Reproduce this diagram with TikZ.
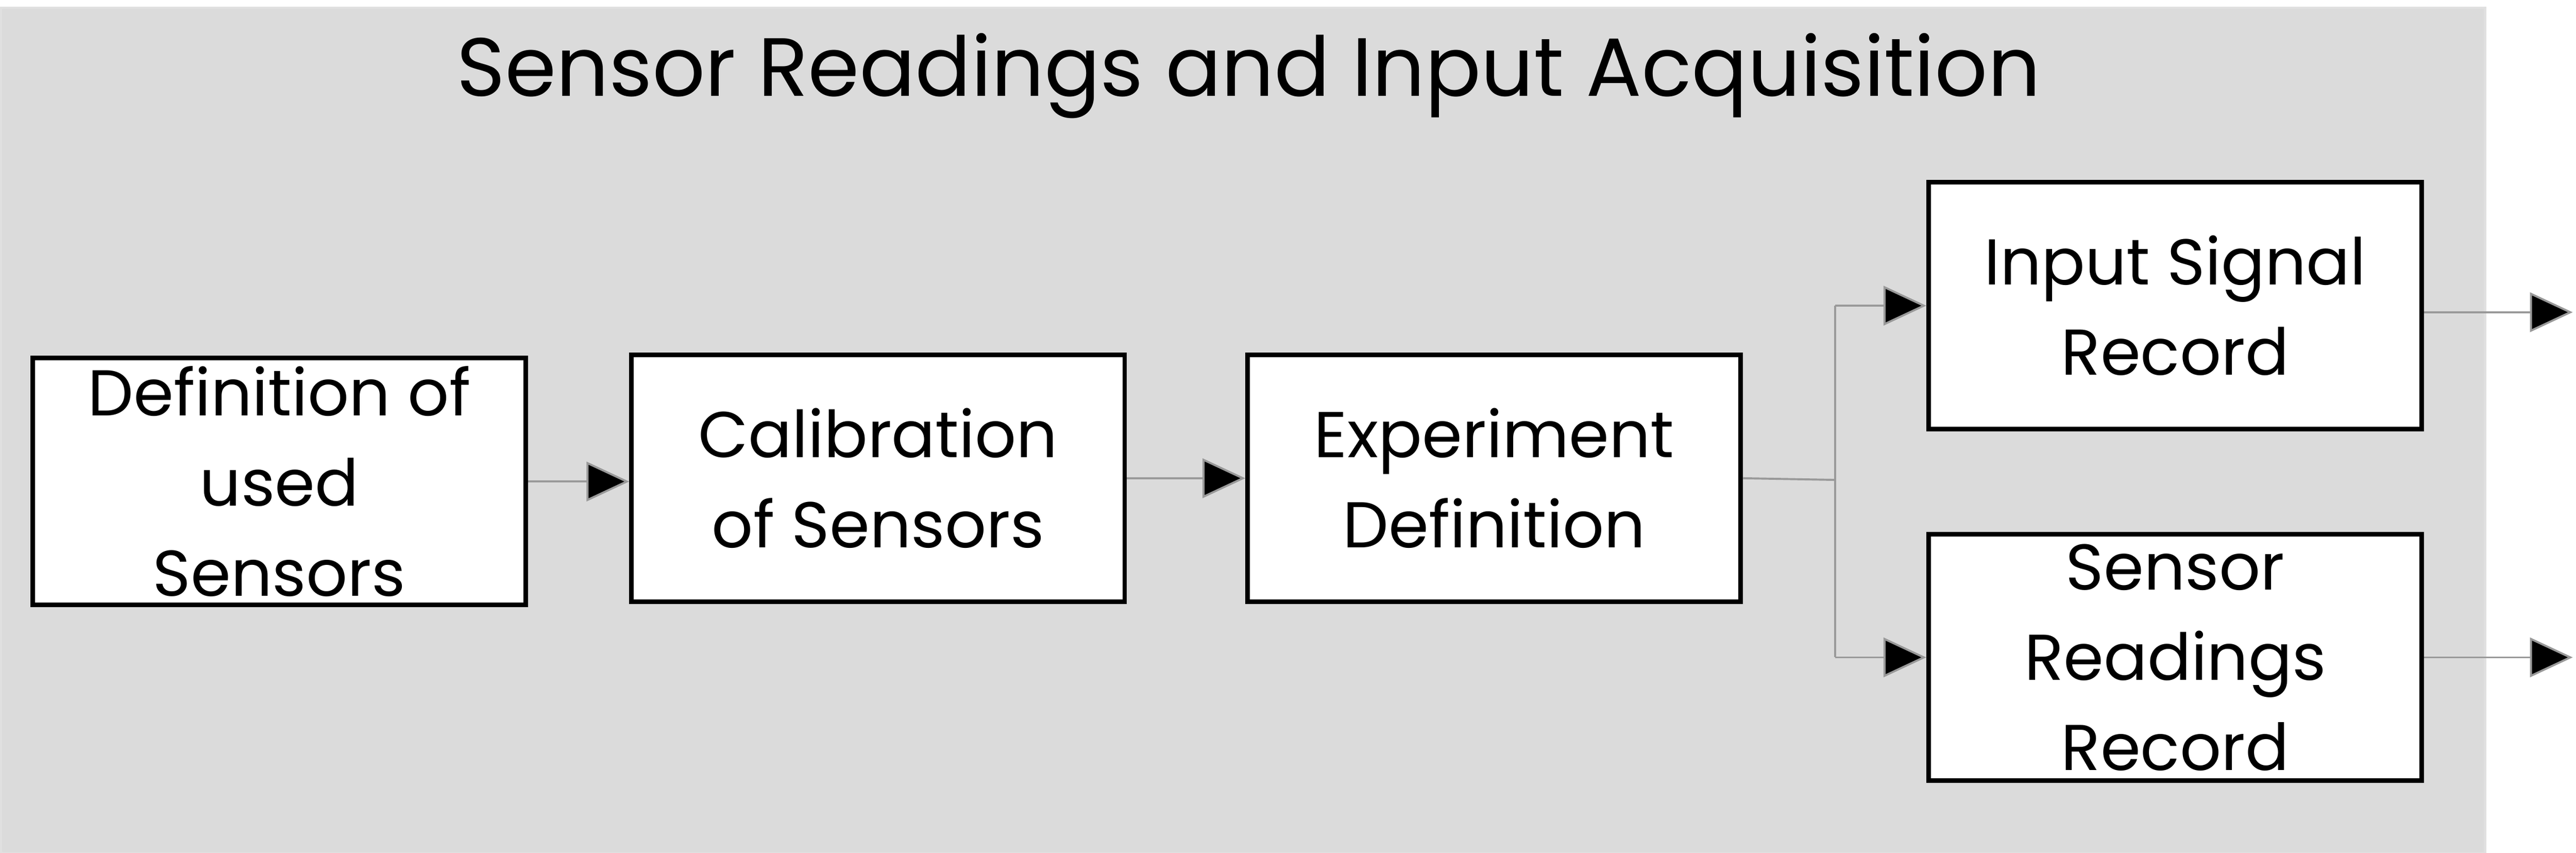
\documentclass[tikz,border=0pt]{standalone}
\usepackage{fontspec}
\setmainfont{Poppins}
\usetikzlibrary{arrows.meta}
\begin{document}
\begin{tikzpicture}[x=0.01cm,y=-0.01cm,
  box/.style={draw=black,line width=0.8pt,fill=white,minimum width=3cm,minimum height=1.5cm,inner sep=0pt,align=center,font=\fontsize{11.2}{15.6}\selectfont},
  conn/.style={draw=black!40,line width=0.35pt,-{Triangle[length=0.26cm,width=0.24cm,fill=black]}},
  line/.style={draw=black!40,line width=0.35pt}]
\useasboundingbox (0,0) rectangle (1568,519);
\node[draw=black!12,fill=black!14,minimum width=15.11cm,minimum height=5.14cm,anchor=north west,inner sep=0pt] (bg) at (0,4) {};
\node[font=\fontsize{14.3}{17}\selectfont] (title) at (760,46) {Sensor Readings and Input Acquisition};
\node[box] (a) at (170,293) {Definition of\\used\\Sensors};
\node[box] (b) at (534.5,291) {Calibration\\of Sensors};
\node[box] (c) at (909.5,291) {Experiment\\Definition};
\node[box] (d) at (1324,186) {Input Signal\\Record};
\node[box] (e) at (1324,400) {Sensor\\Readings\\Record};
\coordinate (j) at (1117,292);
\coordinate (jd) at (1117,186);
\coordinate (je) at (1117,400);
\coordinate (od) at (1566,190);
\coordinate (oe) at (1566,400);
\draw[conn] (a.east) -- (b.west |- a.east);
\draw[conn] (b.east) -- (c.west);
\draw[line] (c.east) -- (j);
\draw[line] (jd) -- (je);
\draw[conn] (jd) -- (d.west);
\draw[conn] (je) -- (e.west);
\draw[conn] (d.east |- od) -- (od);
\draw[conn] (e.east) -- (oe);
\end{tikzpicture}
\end{document}
